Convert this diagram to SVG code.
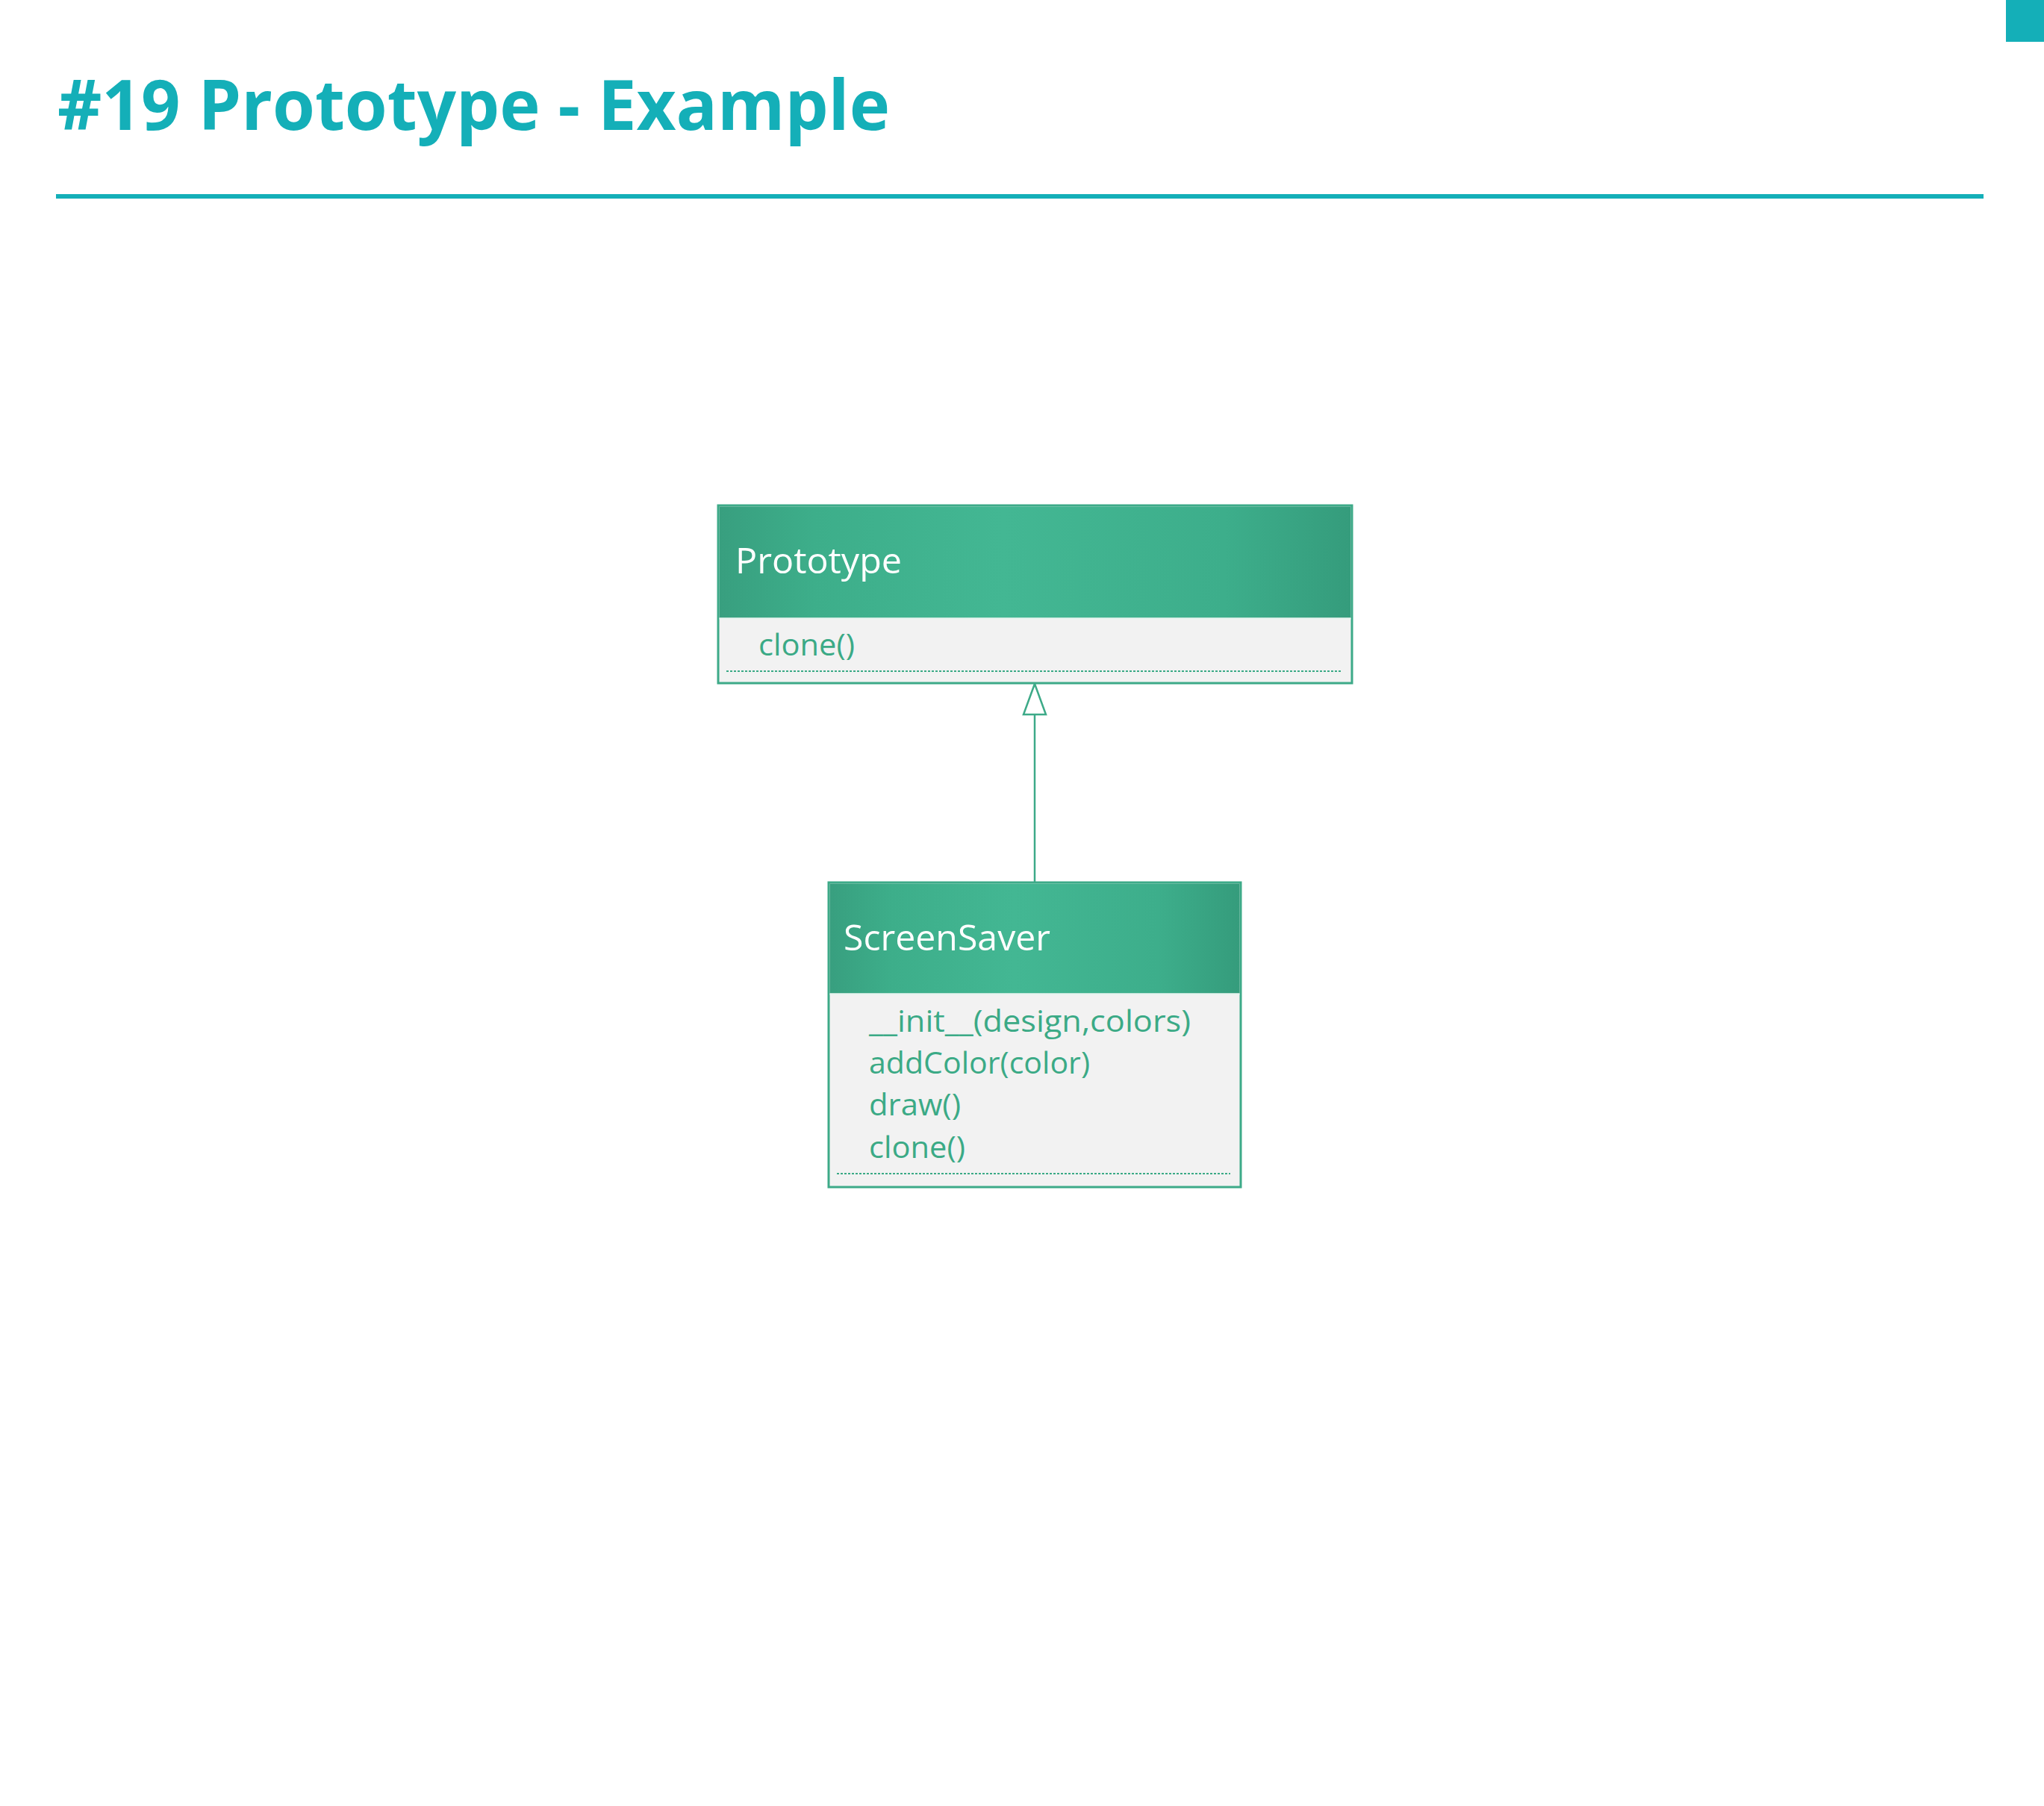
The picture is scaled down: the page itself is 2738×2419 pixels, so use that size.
<svg xmlns="http://www.w3.org/2000/svg" width="2738" height="2419" viewBox="0 0 2738 2419">
  <style>
    .title { font-family: "Open Sans", "Noto Sans", sans-serif; font-weight: 700; font-size: 94px; fill: #14AFB8; }
    .cls-name { font-family: "Open Sans", "Noto Sans", sans-serif; font-size: 48px; fill: #FFFFFF; }
    .member { font-family: "Open Sans", "Noto Sans", sans-serif; font-size: 40px; fill: #3BAA86; }
    .frame { fill: #F2F2F2; stroke: #3DAA88; stroke-width: 3; }
    .head { fill: url(#headGrad); }
    .sep { stroke: #E8F5F0; stroke-width: 2; }
    .dots { stroke: #3BAA86; stroke-width: 2; stroke-dasharray: 3 2; }
    .edge { stroke: #3DAA88; stroke-width: 2.5; fill: none; }
  </style>
  <defs>
    <linearGradient id="headGrad" x1="0" y1="0" x2="1" y2="0">
      <stop offset="0" stop-color="#389F7F"/>
      <stop offset="0.15" stop-color="#3DAE8A"/>
      <stop offset="0.45" stop-color="#43B793"/>
      <stop offset="0.8" stop-color="#3DAE8B"/>
      <stop offset="1" stop-color="#359C7C"/>
    </linearGradient>
  </defs>

  <rect width="2738" height="2419" fill="#FFFFFF"/>

  <!-- heading -->
  <g id="heading">
    <text class="title" x="77" y="174" textLength="1115" lengthAdjust="spacingAndGlyphs">#19 Prototype - Example</text>
    <rect x="75" y="260" width="2582" height="6" fill="#14AFB8"/>
    <rect x="2687" y="0" width="51" height="56" fill="#14AFB8"/>
  </g>

  <!-- connectors -->
  <g id="connectors">
    <line class="edge" x1="1386" y1="1182" x2="1386" y2="957"/>
    <path d="M1386 916 L1401 957 L1371 957 Z" fill="#FFFFFF" stroke="#3DAA88" stroke-width="2.5"/>
  </g>

  <!-- class Prototype -->
  <g id="node-prototype">
    <rect class="frame" x="962" y="677" width="849" height="238"/>
    <rect class="head" x="963.5" y="678.5" width="846" height="149"/>
    <line class="sep" x1="963.5" y1="828.5" x2="1809.5" y2="828.5"/>
    <text class="cls-name" x="985" y="768" textLength="223" lengthAdjust="spacingAndGlyphs">Prototype</text>
    <text class="member" x="1016" y="878" textLength="129" lengthAdjust="spacingAndGlyphs">clone()</text>
    <line class="dots" x1="973" y1="899" x2="1796" y2="899"/>
  </g>

  <!-- class ScreenSaver -->
  <g id="node-screensaver">
    <rect class="frame" x="1110" y="1182" width="552" height="408"/>
    <rect class="head" x="1111.5" y="1183.5" width="549" height="147"/>
    <line class="sep" x1="1111.5" y1="1331.5" x2="1660.5" y2="1331.5"/>
    <text class="cls-name" x="1130" y="1273" textLength="277" lengthAdjust="spacingAndGlyphs">ScreenSaver</text>
    <text class="member" x="1164" y="1382" textLength="431" lengthAdjust="spacingAndGlyphs">__init__(design,colors)</text>
    <text class="member" x="1164" y="1438" textLength="296" lengthAdjust="spacingAndGlyphs">addColor(color)</text>
    <text class="member" x="1164" y="1494" textLength="123" lengthAdjust="spacingAndGlyphs">draw()</text>
    <text class="member" x="1164" y="1551" textLength="129" lengthAdjust="spacingAndGlyphs">clone()</text>
    <line class="dots" x1="1121" y1="1572" x2="1648" y2="1572"/>
  </g>
</svg>
